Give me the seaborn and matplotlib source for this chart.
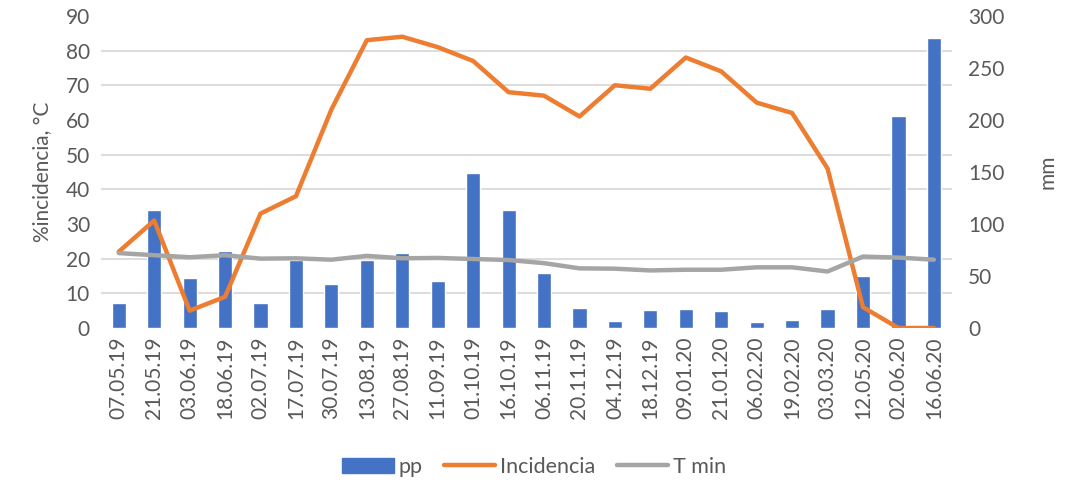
import numpy as np
import pandas as pd
import matplotlib
matplotlib.use("Agg")
import matplotlib.pyplot as plt
from matplotlib.ticker import MultipleLocator
from matplotlib.patches import Patch
from matplotlib.lines import Line2D
import seaborn as sns

# data
fechas = ['07.05.19', '21.05.19', '03.06.19', '18.06.19', '02.07.19', '17.07.19',
          '30.07.19', '13.08.19', '27.08.19', '11.09.19', '01.10.19', '16.10.19',
          '06.11.19', '20.11.19', '04.12.19', '18.12.19', '09.01.20', '21.01.20',
          '06.02.20', '19.02.20', '03.03.20', '12.05.20', '02.06.20', '16.06.20']
pp = [24, 113, 48, 74, 24, 65, 42, 65, 72, 45, 149, 113,
      53, 19, 7, 17, 18, 16, 6, 8, 18, 50, 204, 279]
incidencia = [22, 31, 5, 9, 33, 38, 63, 83, 84, 81, 77, 68,
              67, 61, 70, 69, 78, 74, 65, 62, 46, 6, 0, 0]
t_min = [21.6, 21.0, 20.4, 21.0, 20.0, 20.1, 19.7, 20.8, 20.1, 20.2, 19.9, 19.6,
         18.7, 17.2, 17.1, 16.6, 16.8, 16.8, 17.5, 17.5, 16.3, 20.6, 20.3, 19.7]

df = pd.DataFrame({'fecha': fechas, 'pp': pp, 'Incidencia': incidencia, 'T min': t_min})

sns.set_style("white")
plt.rcParams['font.family'] = ['Lato', 'DejaVu Sans']

azul = '#4472C4'
naranja = '#ED7D31'
gris = '#A5A5A5'
texto = '#595959'

fig, ax = plt.subplots(figsize=(10.68, 4.82), dpi=100)
ax2 = ax.twinx()

# bars on the right (mm) axis, drawn underneath
sns.barplot(data=df, x='fecha', y='pp', color=azul, width=0.4, ax=ax2,
            saturation=1, errorbar=None)

# lines on the left axis
sns.lineplot(data=df, x='fecha', y='Incidencia', color=naranja, lw=3.2, ax=ax, sort=False)
sns.lineplot(data=df, x='fecha', y='T min', color=gris, lw=3.2, ax=ax, sort=False)

ax.set_zorder(ax2.get_zorder() + 1)
ax.patch.set_visible(False)

ax.set_ylim(0, 90)
ax2.set_ylim(0, 300)
ax.set_xlim(-0.5, len(fechas) - 0.5)
ax.yaxis.set_major_locator(MultipleLocator(10))
ax2.yaxis.set_major_locator(MultipleLocator(50))

# gridlines behind the bars, matching left axis steps
ax2.yaxis.set_minor_locator(MultipleLocator(300 / 9))
ax2.grid(which='minor', axis='y', color='#D9D9D9', lw=1.3)
ax2.set_axisbelow(True)
ax2.tick_params(which='minor', length=0)
ax.grid(False)

for a in (ax, ax2):
    for s in a.spines.values():
        s.set_visible(False)
    a.tick_params(axis='both', length=0, labelsize=15, colors=texto)

ax.set_xticks(range(len(fechas)))
ax.set_xticklabels(fechas, rotation=90, fontsize=15, color=texto)
ax.tick_params(axis='x', pad=6)
ax.tick_params(axis='y', pad=8)
ax2.tick_params(axis='y', pad=12)
ax.set_xlabel('')
ax2.set_xlabel('')
ax.set_ylabel('%incidencia, °C', fontsize=15, color=texto, labelpad=10)
ax2.set_ylabel('mm', fontsize=15, color=texto, labelpad=24)

fig.subplots_adjust(left=0.0946, right=0.891, top=0.967, bottom=0.3195)

handles = [Patch(color=azul), Line2D([], [], color=naranja, lw=3.2), Line2D([], [], color=gris, lw=3.2)]
fig.legend(handles, ['pp', 'Incidencia', 'T min'], loc='center', bbox_to_anchor=(0.5, 0.032),
           ncol=3, frameon=False, fontsize=15.5, labelcolor=texto, handlelength=2.4,
           handletextpad=0.2, columnspacing=1.0)

fig.savefig('out.png', dpi=100)
